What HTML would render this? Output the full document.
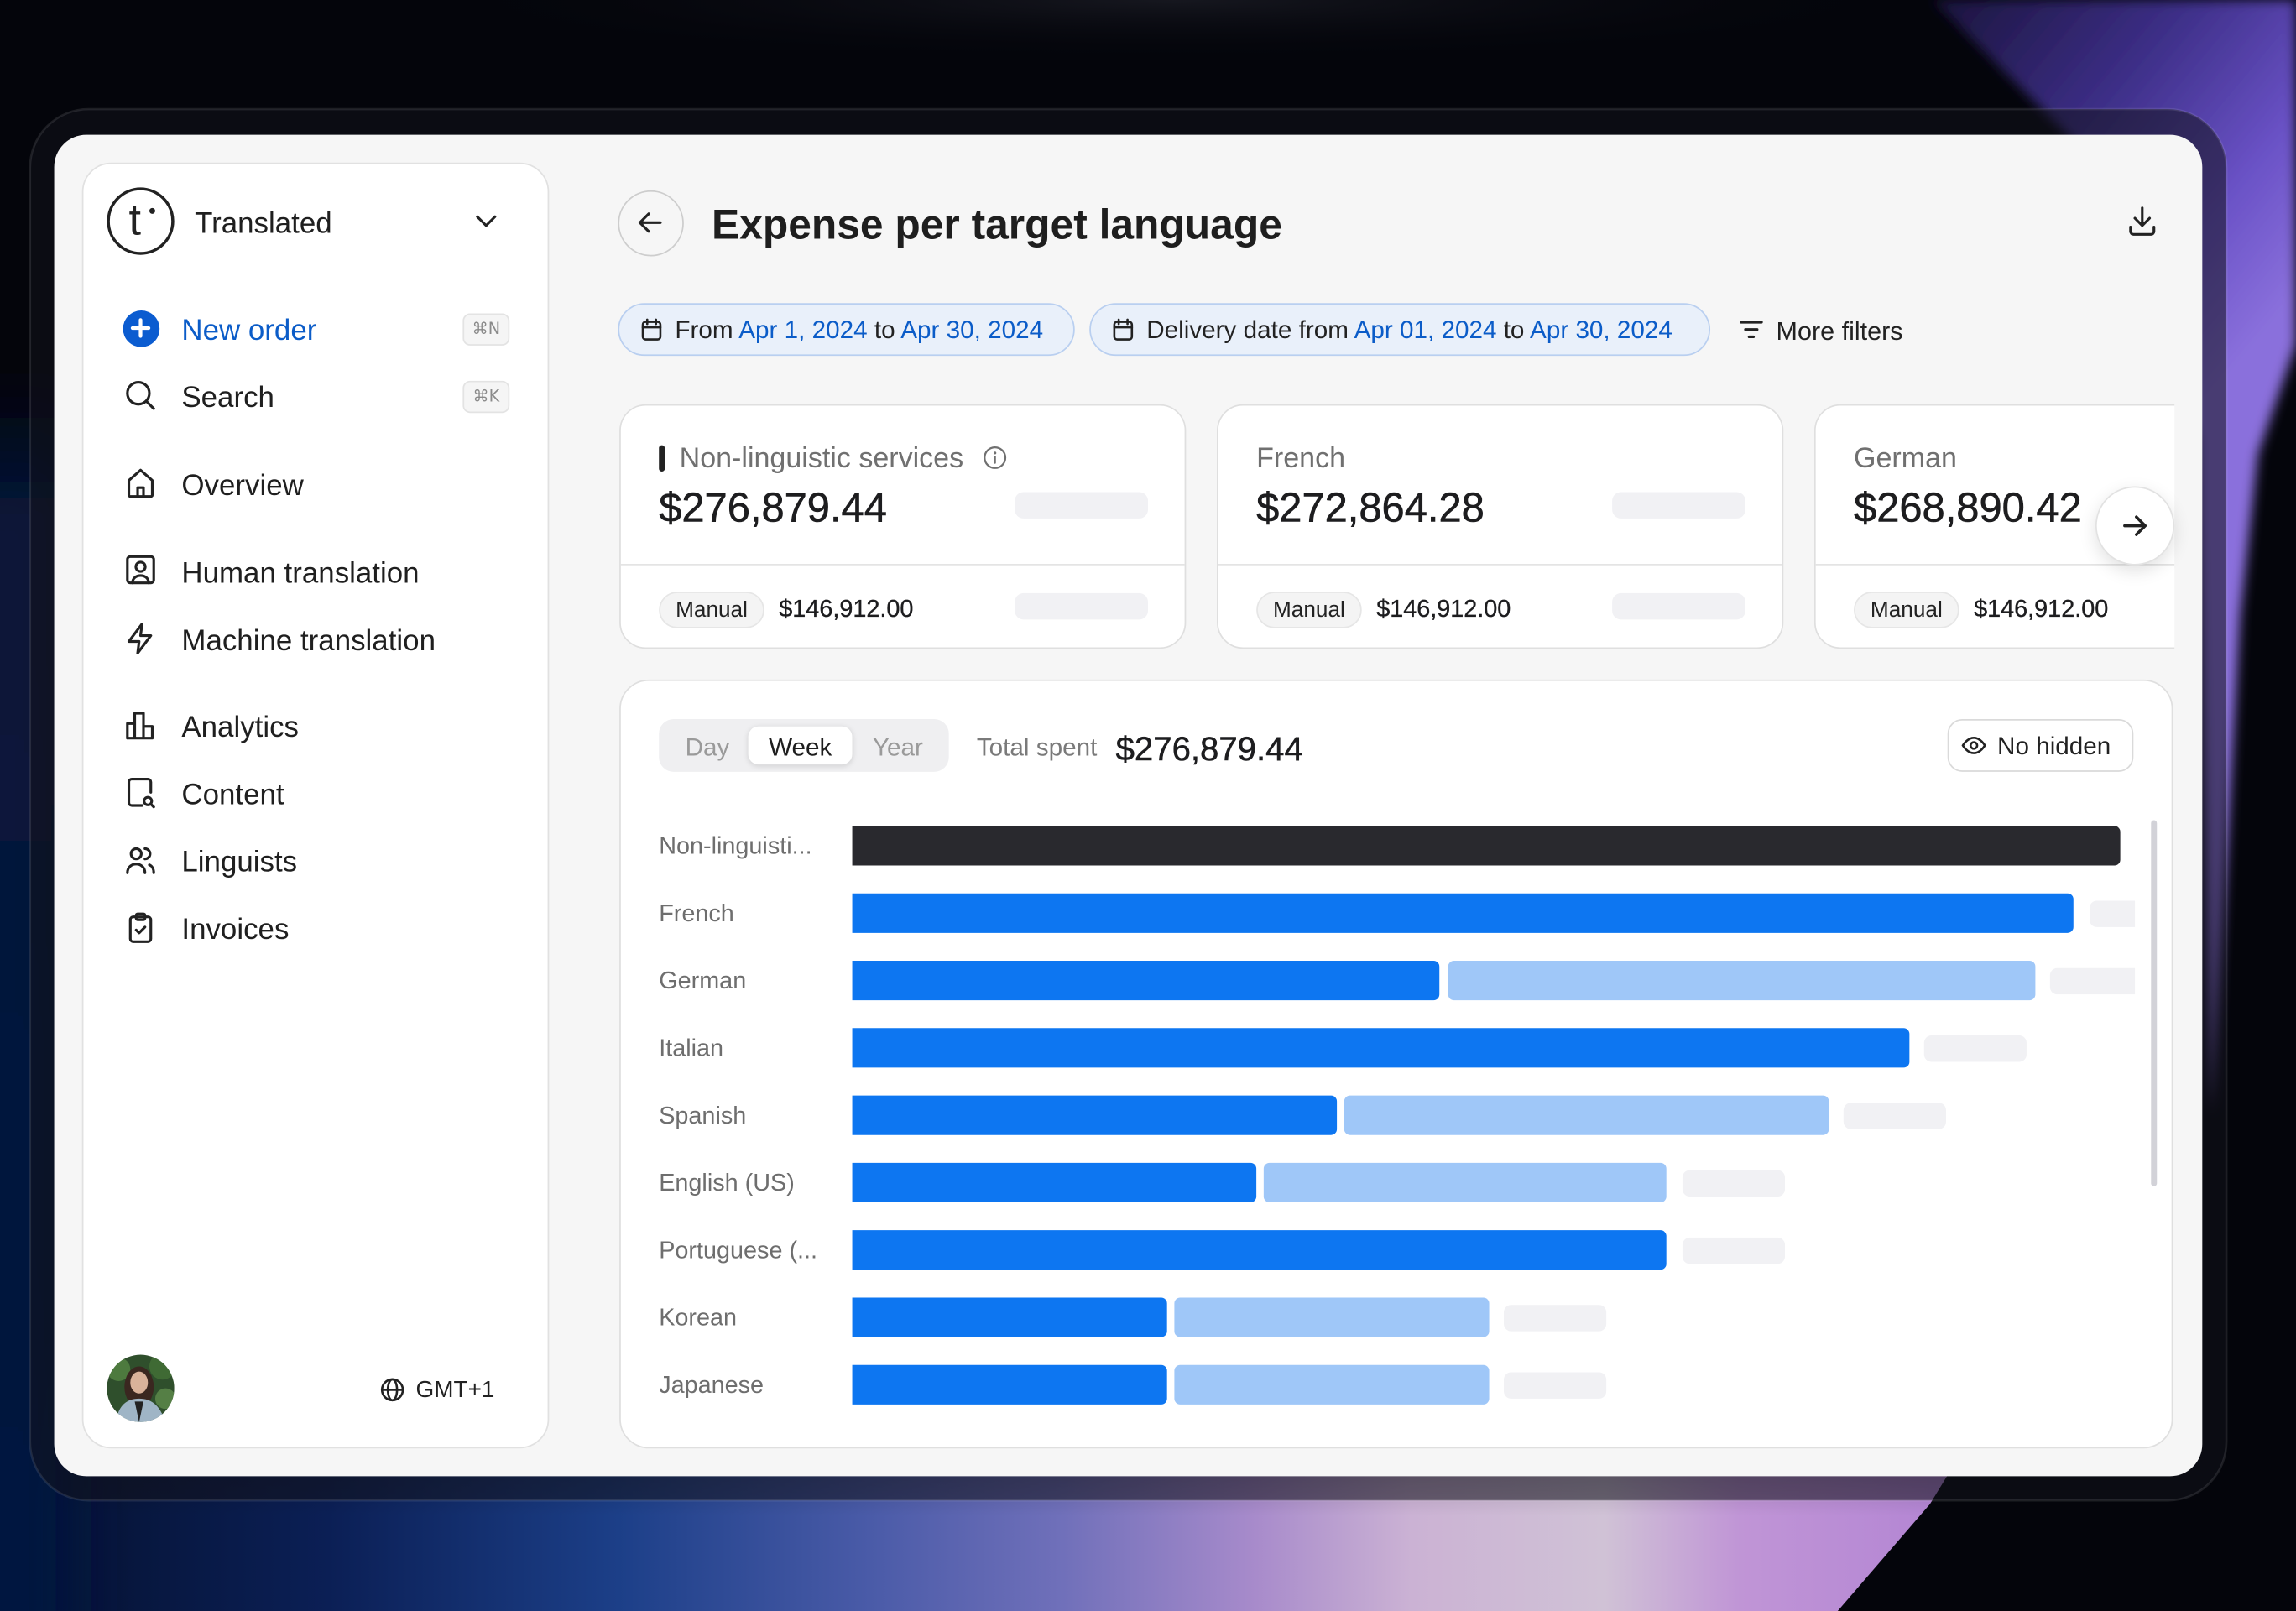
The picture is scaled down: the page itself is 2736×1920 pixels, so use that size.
<!DOCTYPE html>
<html><head><meta charset="utf-8">
<style>
html,body{margin:0;padding:0;width:2736px;height:1920px;overflow:hidden;background:#04050b}
#s{position:absolute;left:0;top:0;width:1568px;height:1100px;overflow:hidden;transform:scale(1.744898,1.74545);transform-origin:0 0;font-family:"Liberation Sans","DejaVu Sans",sans-serif;color:#222}
.a{position:absolute}
.t{position:absolute;white-space:nowrap;line-height:24px}
.side{font-size:20px;color:#1f1f1f;margin-top:1.5px}
.ic{position:absolute;width:24px;height:24px}
.ic *{fill:none;stroke:#222;stroke-width:1.8;stroke-linecap:round;stroke-linejoin:round}
.kbd{position:absolute;width:32px;height:22px;box-sizing:border-box;border:1px solid #e3e3e3;background:#f5f5f5;border-radius:5px;font-size:11px;color:#8a8a8a;text-align:center;line-height:20px;font-family:"DejaVu Sans","Liberation Sans",sans-serif}
.chip{position:absolute;top:207px;height:36px;box-sizing:border-box;border:1.5px solid #b9cff0;background:#e9f0fa;border-radius:18px}
.chip .t{font-size:17px;top:6px;color:#222}
.b{color:#0b5cc8}
.card{position:absolute;top:276px;width:387px;height:167px;box-sizing:border-box;border:1px solid #dfdfdf;border-radius:18px;background:#fff}
.card .div{position:absolute;left:0;right:0;top:108px;height:1px;background:#e4e4e4}
.lbl{font-size:19.5px;color:#707070}
.val{font-size:28px;color:#1d1d1f;-webkit-text-stroke:0.35px #1d1d1f}
.ph{position:absolute;background:#f1f1f4;border-radius:6px}
.pill{position:absolute;height:25px;width:72px;box-sizing:border-box;border:1px solid #e6e6e6;background:#f4f4f4;border-radius:13px;font-size:15px;text-align:center;line-height:23px;color:#222}
.amt{font-size:16.5px;color:#1d1d1f;-webkit-text-stroke:0.2px #1d1d1f}
.cl{font-size:16.5px;color:#6e6e6e;margin-top:1px}
.bar{position:absolute;height:27px}
.dk{background:#29292e;border-radius:0 4px 4px 0}
.bl{background:#0d76f1;border-radius:0 4px 4px 0}
.lb{background:#9fc7f8;border-radius:4px}
.gr{background:#f1f1f4;border-radius:5px;height:18px}
</style></head>
<body>
<div id="s">
<svg class="a" style="left:0;top:0" width="1568" height="1100" viewBox="0 0 1568 1100">
<defs>
<filter id="fb" x="-20%" y="-20%" width="140%" height="140%"><feGaussianBlur stdDeviation="4"/></filter>
<filter id="fb3" x="-100%" y="-20%" width="300%" height="140%"><feGaussianBlur stdDeviation="18"/></filter>
<radialGradient id="gt" cx="800" cy="0" r="520" gradientUnits="userSpaceOnUse" gradientTransform="translate(0,0) scale(1,0.08)">
<stop offset="0" stop-color="#16171f"/>
<stop offset="1" stop-color="#04050b" stop-opacity="0"/>
</radialGradient>
<linearGradient id="gb" x1="0" y1="0" x2="1320" y2="0" gradientUnits="userSpaceOnUse">
<stop offset="0" stop-color="#04112f"/>
<stop offset="0.17" stop-color="#0b1f55"/>
<stop offset="0.32" stop-color="#1c3f88"/>
<stop offset="0.45" stop-color="#4a5ba8"/>
<stop offset="0.55" stop-color="#7070ba"/>
<stop offset="0.65" stop-color="#a88bcb"/>
<stop offset="0.73" stop-color="#cbb2d4"/>
<stop offset="0.83" stop-color="#d0c2d6"/>
<stop offset="0.9" stop-color="#c095d6"/>
<stop offset="1" stop-color="#b486d4"/>
</linearGradient>
<linearGradient id="fadev" x1="0" y1="850" x2="0" y2="1035" gradientUnits="userSpaceOnUse">
<stop offset="0" stop-color="#04050b" stop-opacity="1"/>
<stop offset="1" stop-color="#04050b" stop-opacity="0"/>
</linearGradient>
<linearGradient id="gl" x1="0" y1="260" x2="0" y2="1100" gradientUnits="userSpaceOnUse">
<stop offset="0" stop-color="#071236" stop-opacity="0"/>
<stop offset="0.1" stop-color="#071538"/>
<stop offset="1" stop-color="#061440"/>
</linearGradient>
<linearGradient id="gp" x1="1330" y1="0" x2="1568" y2="200" gradientUnits="userSpaceOnUse">
<stop offset="0" stop-color="#1c1540"/>
<stop offset="0.4" stop-color="#3c2e86"/>
<stop offset="0.75" stop-color="#6a52c6"/>
<stop offset="1" stop-color="#8a70dc"/>
</linearGradient>
</defs>
<rect width="1568" height="1100" fill="#04050b"/>
<rect x="250" y="0" width="1100" height="60" fill="url(#gt)"/>
<polygon points="0,860 1420,860 1318,1027 1255,1100 0,1100" fill="url(#gb)"/>
<rect x="0" y="850" width="1568" height="190" fill="url(#fadev)"/>
<rect x="-40" y="260" width="90" height="880" fill="url(#gl)" filter="url(#fb3)"/>
<polygon points="1320,0 1568,0 1568,235 1542,310 1530,420 1522,560 1510,760 1500,300 1440,120" fill="url(#gp)" filter="url(#fb)"/>
<rect x="20.5" y="74.5" width="1500" height="950" rx="40" fill="rgba(18,18,28,0.55)" stroke="rgba(255,255,255,0.1)" stroke-width="1.5"/>
</svg>

<!-- screen -->
<div class="a" style="left:37px;top:92px;width:1467px;height:916px;border-radius:22px;background:#f6f6f6"></div>

<!-- sidebar -->
<div class="a" style="left:56px;top:111px;width:319px;height:878px;box-sizing:border-box;border:1px solid #e1e1e1;border-radius:20px;background:#fff"></div>
<div class="a" style="left:73px;top:128px;width:46px;height:46px;box-sizing:border-box;border:2.6px solid #222;border-radius:50%"></div>
<div class="t" style="left:88px;top:134px;font-size:30px;line-height:34px;color:#222">t</div>
<div class="a" style="left:102px;top:142px;width:4px;height:4px;border-radius:50%;background:#222"></div>
<div class="t side" style="left:133px;top:139px">Translated</div>
<svg class="ic" style="left:320px;top:139px"><polyline points="6,9 12,15 18,9"/></svg>

<div class="a" style="left:83.5px;top:211.5px;width:25px;height:25px;border-radius:50%;background:#0b5cd0"></div>
<svg class="a" style="left:84px;top:212px" width="24" height="24"><path d="M12 6.5V17.5M6.5 12H17.5" stroke="#fff" stroke-width="2.4" stroke-linecap="round"/></svg>
<div class="t side" style="left:124px;top:212px;color:#0b5cc8">New order</div>
<div class="kbd" style="left:316px;top:214px">⌘N</div>

<svg class="ic" style="left:84px;top:258px"><circle cx="10.5" cy="10.5" r="7.5"/><line x1="16" y1="16" x2="21" y2="21"/></svg>
<div class="t side" style="left:124px;top:258px">Search</div>
<div class="kbd" style="left:316px;top:260px">⌘K</div>

<svg class="ic" style="left:84px;top:318px"><path d="M4 10L12 3L20 10V20a1 1 0 0 1-1 1H5a1 1 0 0 1-1-1Z"/><path d="M10 21V15H14V21"/></svg>
<div class="t side" style="left:124px;top:318px">Overview</div>

<svg class="ic" style="left:84px;top:377px"><rect x="3" y="3" width="18" height="18" rx="2"/><circle cx="12" cy="10" r="3.2"/><path d="M6.5 21c0-3.2 2.5-5 5.5-5s5.5 1.8 5.5 5"/></svg>
<div class="t side" style="left:124px;top:378px">Human translation</div>

<svg class="ic" style="left:84px;top:424px"><path d="M13 2L4 14H11L10 22L19 10H12Z"/></svg>
<div class="t side" style="left:124px;top:424px">Machine translation</div>

<svg class="ic" style="left:84px;top:483px"><path d="M3 21V11H8V21ZM8 21V4H14V21ZM14 21V13H20V21Z"/></svg>
<div class="t side" style="left:124px;top:483px">Analytics</div>

<svg class="ic" style="left:84px;top:529px"><path d="M13 21H6a2 2 0 0 1-2-2V5a2 2 0 0 1 2-2H17a2 2 0 0 1 2 2V12"/><circle cx="17" cy="18" r="2.6"/><line x1="19" y1="20" x2="21" y2="22"/></svg>
<div class="t side" style="left:124px;top:529px">Content</div>

<svg class="ic" style="left:84px;top:575px"><circle cx="9" cy="8" r="3.5"/><path d="M3 21c0-4 3-6 6-6s6 2 6 6"/><path d="M15 4.5a3.5 3.5 0 0 1 0 7"/><path d="M18 15.5c2 .8 3 3 3 5.5"/></svg>
<div class="t side" style="left:124px;top:575px">Linguists</div>

<svg class="ic" style="left:84px;top:621px"><rect x="5" y="5" width="14" height="17" rx="2"/><rect x="9" y="3" width="6" height="4" rx="1"/><path d="M9 14l2 2l4-4"/></svg>
<div class="t side" style="left:124px;top:621px">Invoices</div>

<svg class="a" style="left:73px;top:925px" width="46" height="46" viewBox="0 0 46 46">
<defs><clipPath id="av"><circle cx="23" cy="23" r="23"/></clipPath></defs>
<g clip-path="url(#av)">
<rect width="46" height="46" fill="#2f4f2c"/>
<circle cx="8" cy="10" r="8" fill="#4d7a3e"/><circle cx="38" cy="8" r="9" fill="#3f6a34"/><circle cx="40" cy="30" r="7" fill="#557f45"/>
<ellipse cx="22" cy="22" rx="10" ry="14" fill="#3a2720"/>
<ellipse cx="22" cy="19" rx="6" ry="7.5" fill="#d9b29a"/>
<path d="M6 46C8 34 14 30 22 30S36 34 40 46Z" fill="#9fb5c6"/>
<path d="M19 32L22 46L25 32Z" fill="#222"/>
</g></svg>
<svg class="a" style="left:259px;top:940px" width="18" height="18" viewBox="0 0 24 24"><g fill="none" stroke="#222" stroke-width="2"><circle cx="12" cy="12" r="9.5"/><ellipse cx="12" cy="12" rx="4.2" ry="9.5"/><line x1="2.5" y1="12" x2="21.5" y2="12"/></g></svg>
<div class="t" style="left:284px;top:938px;font-size:16px;color:#222">GMT+1</div>

<!-- header -->
<div class="a" style="left:422px;top:130px;width:45px;height:45px;box-sizing:border-box;border:1px solid #cdcdcd;border-radius:50%"></div>
<svg class="ic" style="left:432px;top:140px"><path d="M19 12H5M11 6L5 12L11 18"/></svg>
<div class="t" style="left:486px;top:138px;font-size:28.5px;line-height:32px;font-weight:bold;color:#1e1e1e">Expense per target language</div>
<svg class="ic" style="left:1451px;top:139px"><g style="stroke:#7a7a7a"><path d="M12 3V15M7 10L12 15L17 10M4 16V19a2 2 0 0 0 2 2H18a2 2 0 0 0 2-2V16"/></g></svg>

<!-- chips -->
<div class="chip" style="left:422px;width:312px">
<svg class="a" style="left:13px;top:8px" width="18" height="18" viewBox="0 0 24 24"><g fill="none" stroke="#222" stroke-width="2" stroke-linecap="round"><rect x="4" y="5" width="16" height="16" rx="2.5"/><line x1="4" y1="10" x2="20" y2="10"/><line x1="8" y1="3" x2="8" y2="7"/><line x1="16" y1="3" x2="16" y2="7"/></g></svg>
<div class="t" style="left:38px">From <span class="b">Apr 1, 2024</span> to <span class="b">Apr 30, 2024</span></div>
</div>
<div class="chip" style="left:744px;width:424px">
<svg class="a" style="left:13px;top:8px" width="18" height="18" viewBox="0 0 24 24"><g fill="none" stroke="#222" stroke-width="2" stroke-linecap="round"><rect x="4" y="5" width="16" height="16" rx="2.5"/><line x1="4" y1="10" x2="20" y2="10"/><line x1="8" y1="3" x2="8" y2="7"/><line x1="16" y1="3" x2="16" y2="7"/></g></svg>
<div class="t" style="left:38px">Delivery date from <span class="b">Apr 01, 2024</span> to <span class="b">Apr 30, 2024</span></div>
</div>
<svg class="a" style="left:1187px;top:217px" width="18" height="16"><g stroke="#222" stroke-width="1.8" stroke-linecap="round"><line x1="2" y1="3" x2="16" y2="3"/><line x1="5" y1="8" x2="13" y2="8"/><line x1="7.5" y1="13" x2="10.5" y2="13"/></g></svg>
<div class="t" style="left:1213px;top:214px;font-size:17.5px;color:#222">More filters</div>

<!-- cards -->
<div class="card" style="left:423px">
<div class="div"></div>
<div class="a" style="left:26px;top:27px;width:4px;height:18px;border-radius:2px;background:#222"></div>
<div class="t lbl" style="left:40px;top:24px">Non-linguistic services</div>
<svg class="a" style="left:247px;top:27px" width="17" height="17" viewBox="0 0 24 24"><g fill="none" stroke="#707070" stroke-width="1.8" stroke-linecap="round"><circle cx="12" cy="12" r="10"/><line x1="12" y1="11" x2="12" y2="17"/></g><circle cx="12" cy="7.5" r="1.3" fill="#707070"/></svg>
<div class="t val" style="left:26px;top:54px;line-height:32px">$276,879.44</div>
<div class="ph" style="left:269px;top:59px;width:91px;height:18px"></div>
<div class="pill" style="left:26px;top:127px">Manual</div>
<div class="t amt" style="left:108px;top:127px">$146,912.00</div>
<div class="ph" style="left:269px;top:128px;width:91px;height:18px"></div>
</div>

<div class="card" style="left:831px">
<div class="div"></div>
<div class="t lbl" style="left:26px;top:24px">French</div>
<div class="t val" style="left:26px;top:54px;line-height:32px">$272,864.28</div>
<div class="ph" style="left:269px;top:59px;width:91px;height:18px"></div>
<div class="pill" style="left:26px;top:127px">Manual</div>
<div class="t amt" style="left:108px;top:127px">$146,912.00</div>
<div class="ph" style="left:269px;top:128px;width:91px;height:18px"></div>
</div>

<div class="a" style="left:1239px;top:276px;width:246px;height:168px;overflow:hidden">
<div class="card" style="left:0;top:0">
<div class="div"></div>
<div class="t lbl" style="left:26px;top:24px">German</div>
<div class="t val" style="left:26px;top:54px;line-height:32px">$268,890.42</div>
<div class="pill" style="left:26px;top:127px">Manual</div>
<div class="t amt" style="left:108px;top:127px">$146,912.00</div>
</div>
</div>
<div class="a" style="left:1431px;top:332px;width:54px;height:54px;box-sizing:border-box;border:1px solid #e2e2e2;border-radius:50%;background:#fff;box-shadow:0 4px 12px rgba(0,0,0,0.12)"></div>
<svg class="ic" style="left:1446px;top:347px"><path d="M5 12H19M13 6L19 12L13 18" style="stroke-width:2"/></svg>

<!-- chart panel -->
<div class="a" style="left:423px;top:464px;width:1061px;height:525px;box-sizing:border-box;border:1px solid #dfdfdf;border-radius:20px;background:#fff"></div>
<div class="a" style="left:450px;top:491px;width:198px;height:36px;border-radius:10px;background:#efeff1"></div>
<div class="a" style="left:511px;top:496px;width:71px;height:26px;border-radius:7px;background:#fff;box-shadow:0 1px 4px rgba(0,0,0,0.13)"></div>
<div class="t" style="left:468px;top:499px;font-size:17px;color:#9a9a9a">Day</div>
<div class="t" style="left:525px;top:499px;font-size:17px;color:#1e1e1e">Week</div>
<div class="t" style="left:596px;top:499px;font-size:17px;color:#9a9a9a">Year</div>
<div class="t" style="left:667px;top:499px;font-size:17px;color:#7a7a7a">Total spent</div>
<div class="t" style="left:762px;top:497px;font-size:23px;line-height:28px;color:#1d1d1f;-webkit-text-stroke:0.3px #1d1d1f">$276,879.44</div>

<div class="a" style="left:1330px;top:491px;width:127px;height:36px;box-sizing:border-box;border:1px solid #dadada;border-radius:10px;background:#fff"></div>
<svg class="a" style="left:1339px;top:500px" width="18" height="18" viewBox="0 0 24 24"><g fill="none" stroke="#222" stroke-width="2"><path d="M2 12s4-7 10-7s10 7 10 7s-4 7-10 7s-10-7-10-7Z"/><circle cx="12" cy="12" r="3"/></g></svg>
<div class="t" style="left:1364px;top:498px;font-size:17px;color:#222">No hidden</div>

<!-- labels -->
<div class="t cl" style="left:450px;top:565px">Non-linguisti...</div>
<div class="t cl" style="left:450px;top:611px">French</div>
<div class="t cl" style="left:450px;top:657px">German</div>
<div class="t cl" style="left:450px;top:703px">Italian</div>
<div class="t cl" style="left:450px;top:749px">Spanish</div>
<div class="t cl" style="left:450px;top:795px">English (US)</div>
<div class="t cl" style="left:450px;top:841px">Portuguese (...</div>
<div class="t cl" style="left:450px;top:887px">Korean</div>
<div class="t cl" style="left:450px;top:933px">Japanese</div>

<!-- bars -->
<div class="a" style="left:582px;top:555px;width:876px;height:420px;overflow:hidden">
<div class="bar dk" style="left:0;top:9px;width:866px"></div>

<div class="bar bl" style="left:0;top:55px;width:834px"></div>
<div class="bar gr" style="left:845px;top:59.5px;width:70px"></div>

<div class="bar bl" style="left:0;top:101px;width:401px"></div>
<div class="bar lb" style="left:407px;top:101px;width:401px"></div>
<div class="bar gr" style="left:818px;top:105.5px;width:70px"></div>

<div class="bar bl" style="left:0;top:147px;width:722px"></div>
<div class="bar gr" style="left:732px;top:151.5px;width:70px"></div>

<div class="bar bl" style="left:0;top:193px;width:331px"></div>
<div class="bar lb" style="left:336px;top:193px;width:331px"></div>
<div class="bar gr" style="left:677px;top:197.5px;width:70px"></div>

<div class="bar bl" style="left:0;top:239px;width:276px"></div>
<div class="bar lb" style="left:281px;top:239px;width:275px"></div>
<div class="bar gr" style="left:567px;top:243.5px;width:70px"></div>

<div class="bar bl" style="left:0;top:285px;width:556px"></div>
<div class="bar gr" style="left:567px;top:289.5px;width:70px"></div>

<div class="bar bl" style="left:0;top:331px;width:215px"></div>
<div class="bar lb" style="left:220px;top:331px;width:215px"></div>
<div class="bar gr" style="left:445px;top:335.5px;width:70px"></div>

<div class="bar bl" style="left:0;top:377px;width:215px"></div>
<div class="bar lb" style="left:220px;top:377px;width:215px"></div>
<div class="bar gr" style="left:445px;top:381.5px;width:70px"></div>
</div>

<div class="a" style="left:1469px;top:560px;width:4px;height:250px;border-radius:2px;background:#d2d2d8"></div>
</div>
</body></html>
